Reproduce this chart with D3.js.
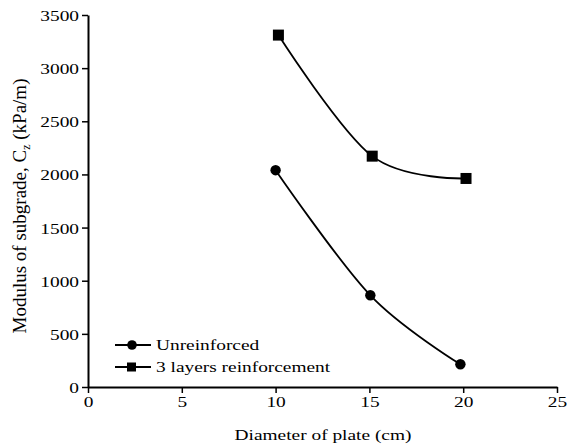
<!DOCTYPE html>
<html>
<head>
<meta charset="utf-8">
<script src="https://cdn.jsdelivr.net/npm/d3@7"></script>
<style>
  body { margin: 0; background: #fff; }
  svg text { font-family: 'Liberation Serif', 'Times New Roman', Times, serif; fill: #000; }
</style>
</head>
<body>
<svg id="chart" width="569" height="447"></svg>
<script>
// data
var unreinforced_x = [10, 15.05, 19.85]
var unreinforced_y = [2040, 863, 214]
var reinforced_x = [10.15, 15.15, 20.15]
var reinforced_y = [3311, 2172, 1962]

var x_ticks = [0, 5, 10, 15, 20, 25]
var y_ticks = [0, 500, 1000, 1500, 2000, 2500, 3000, 3500]

var series_names = ['Unreinforced', '3 layers reinforcement']

// the original figure is stretched sideways, so is its horizontal text
var font_size = 15.5
var stretch = 1.25

var svg = d3.select('#chart')

var x = d3.scaleLinear().domain([0, 25]).range([88, 557])
var y = d3.scaleLinear().domain([0, 3500]).range([387, 15])

// horizontal text helper
function htext(parent, px, py, str, anchor) {
  return parent.append('text')
    .attr('transform', 'translate(' + px + ',' + py + ') scale(' + stretch + ',1)')
    .attr('text-anchor', anchor || 'start')
    .attr('font-size', font_size)
    .text(str)
}

// axes
var x_axis = svg.append('g')
  .attr('transform', 'translate(0,' + y(0) + ')')
  .call(d3.axisBottom(x).tickValues(x_ticks).tickFormat(d3.format('d'))
    .tickSize(6).tickSizeOuter(0).tickPadding(4))
var y_axis = svg.append('g')
  .attr('transform', 'translate(' + x(0) + ',0)')
  .call(d3.axisLeft(y).tickValues(y_ticks).tickFormat(d3.format('d'))
    .tickSize(6).tickSizeOuter(0).tickPadding(3))

svg.selectAll('.domain').attr('stroke', '#000').attr('stroke-width', 2)
svg.selectAll('.tick line').attr('stroke', '#000').attr('stroke-width', 1.5)

x_axis.selectAll('.tick text')
  .attr('font-size', font_size)
  .attr('y', null).attr('dy', null)
  .attr('transform', 'translate(0,20) scale(' + stretch + ',1)')
y_axis.selectAll('.tick text')
  .attr('font-size', font_size)
  .attr('x', null).attr('dy', '0.35em')
  .attr('transform', 'translate(-9,0) scale(' + stretch + ',1)')
svg.selectAll('g').attr('font-family', null)

// axis titles
htext(svg, 323, 440, 'Diameter of plate (cm)', 'middle')

var ylab = svg.append('text')
  .attr('transform', 'translate(26,206) rotate(-90)')
  .attr('text-anchor', 'middle')
  .attr('font-size', 19)
ylab.append('tspan').text('Modulus of subgrade, C')
ylab.append('tspan').attr('font-size', 12).attr('dy', 4).text('z')
ylab.append('tspan').attr('dy', -4).text(' (kPa/m)')

// curves
var line = d3.line()
  .x(function(d) { return x(d[0]) })
  .y(function(d) { return y(d[1]) })
  .curve(d3.curveCardinal.tension(0))

var unreinforced = d3.zip(unreinforced_x, unreinforced_y)
var reinforced = d3.zip(reinforced_x, reinforced_y)

svg.append('path').datum(unreinforced)
  .attr('d', line).attr('fill', 'none').attr('stroke', '#000').attr('stroke-width', 1.8)
svg.append('path').datum(reinforced)
  .attr('d', line).attr('fill', 'none').attr('stroke', '#000').attr('stroke-width', 1.8)

// markers
svg.selectAll('.circle-mark').data(unreinforced).enter()
  .append('circle')
  .attr('cx', function(d) { return x(d[0]) })
  .attr('cy', function(d) { return y(d[1]) })
  .attr('r', 5.2)
  .attr('fill', '#000')

svg.selectAll('.square-mark').data(reinforced).enter()
  .append('rect')
  .attr('x', function(d) { return x(d[0]) - 5.5 })
  .attr('y', function(d) { return y(d[1]) - 5.5 })
  .attr('width', 11).attr('height', 11)
  .attr('fill', '#000')

// legend
var legend = svg.append('g')
legend.append('line').attr('x1', 115).attr('x2', 151).attr('y1', 345).attr('y2', 345)
  .attr('stroke', '#000').attr('stroke-width', 1.8)
legend.append('circle').attr('cx', 132).attr('cy', 345).attr('r', 4.8).attr('fill', '#000')
htext(legend, 156, 350, series_names[0])

legend.append('line').attr('x1', 115).attr('x2', 151).attr('y1', 367).attr('y2', 367)
  .attr('stroke', '#000').attr('stroke-width', 1.8)
legend.append('rect').attr('x', 127).attr('y', 362.5).attr('width', 9).attr('height', 9).attr('fill', '#000')
htext(legend, 156, 372, series_names[1])
</script>
</body>
</html>
